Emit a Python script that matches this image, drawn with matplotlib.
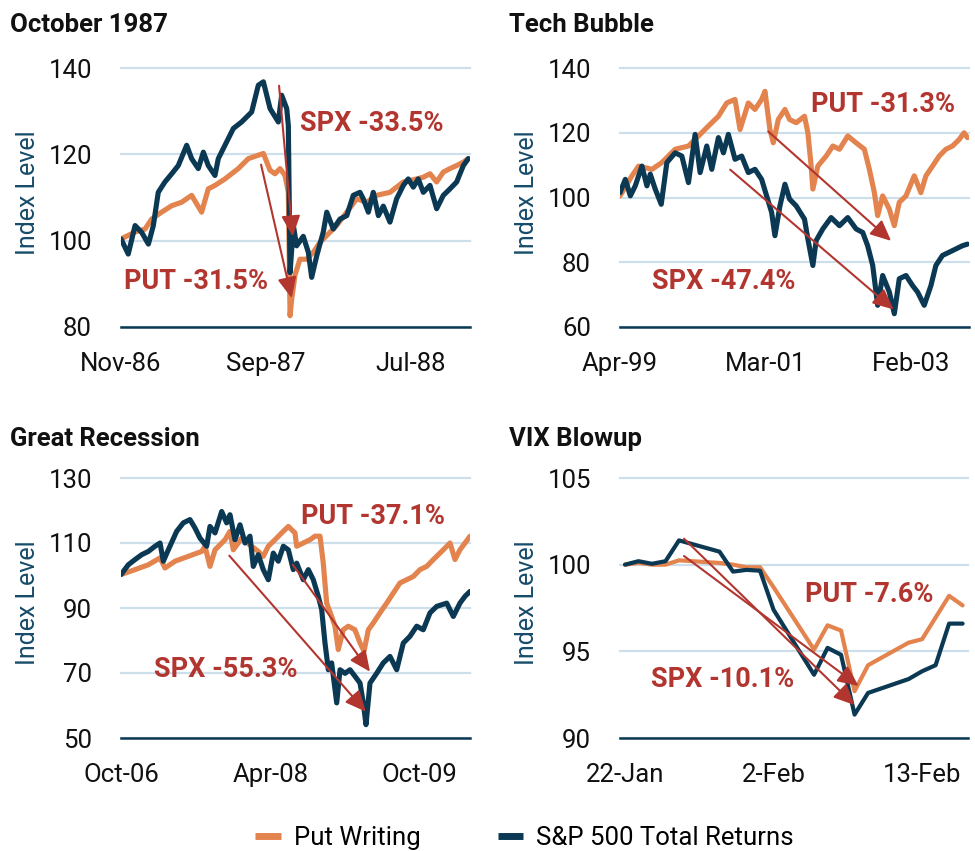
import matplotlib
matplotlib.use("Agg")
import matplotlib.pyplot as plt
from matplotlib.lines import Line2D

ORANGE = "#E3834E"
NAVY = "#0B3954"
RED = "#B2362F"
GRID = "#CCDFEA"
YLAB = "#164B6A"

plt.rcParams["font.family"] = ["Roboto", "DejaVu Sans"]

# ---- October 1987 (x = months since Nov-86)
oct87_spx_m = [0.0, 0.5, 0.97, 1.43, 1.89, 2.23, 2.57, 3.03, 3.5, 3.95, 4.53, 4.87, 5.33, 5.68, 6.02,
               6.48, 6.71, 7.17, 7.75, 8.32, 9.01, 9.47, 9.82, 10.28, 10.85, 11.08, 11.43, 11.54, 11.66,
               11.89, 12.11, 12.57, 12.92, 13.15, 13.5, 13.95, 14.19, 14.64, 15.1, 15.57, 16.02, 16.48,
               16.71, 17.06, 17.4, 17.75, 18.09, 18.55, 19.01, 19.47, 19.81, 20.16, 20.5, 20.85, 21.31,
               21.77, 22.23, 22.69, 23.15, 23.61, 23.95]
oct87_spx = [100.4, 96.9, 103.5, 101.9, 99.2, 103.5, 111.2, 113.6, 115.5, 117.4, 122.1, 119.0, 116.7,
             120.5, 117.4, 115.1, 119.0, 122.1, 126.0, 127.5, 129.8, 136.0, 136.8, 130.6, 127.5, 133.7,
             130.6, 126.7, 92.6, 103.5, 98.8, 101.0, 97.3, 91.5, 96.5, 102.0, 106.6, 102.7, 105.0, 105.8,
             110.5, 111.2, 109.7, 106.6, 111.2, 105.8, 108.0, 104.3, 109.7, 112.8, 114.3, 112.4, 114.3,
             111.2, 112.8, 107.4, 110.5, 112.0, 113.6, 117.4, 119.0]
oct87_put_m = [0.0, 0.97, 1.66, 2.11, 2.8, 3.5, 4.18, 4.87, 5.56, 6.02, 6.48, 7.17, 8.09, 8.78, 9.47,
               9.82, 10.28, 10.62, 10.97, 11.31, 11.54, 11.66, 11.77, 12.0, 12.34, 12.8, 13.26, 13.72,
               14.19, 14.87, 15.57, 16.26, 16.94, 17.63, 18.55, 19.47, 20.39, 20.85, 21.31, 21.77, 22.23,
               22.69, 23.15, 23.61, 23.95]
oct87_put = [100.4, 102.0, 102.7, 105.0, 106.6, 108.1, 108.9, 110.5, 106.6, 112.0, 112.8, 114.3, 116.7,
             119.0, 119.8, 120.2, 116.3, 115.5, 116.7, 115.1, 111.2, 82.6, 86.4, 92.0, 95.7, 95.7, 97.3,
             99.6, 101.2, 103.5, 106.6, 109.7, 108.9, 110.5, 111.2, 113.6, 114.3, 114.7, 115.5, 113.6,
             115.9, 116.7, 117.4, 118.2, 119.0]

# ---- Tech Bubble (x = months since Apr-99)
tech_spx_m = [0.0, 0.84, 1.63, 2.41, 3.46, 4.25, 4.78, 5.56, 6.51, 7.4, 8.71, 9.76, 10.81, 11.86, 12.65,
              13.7, 14.49, 15.54, 16.33, 17.11, 18.16, 19.21, 20.26, 21.31, 22.36, 23.15, 23.94, 24.46,
              25.25, 26.04, 26.77, 27.82, 29.13, 29.66, 30.45, 30.97, 32.02, 33.33, 34.65, 35.96, 37.27,
              38.32, 39.1, 39.9, 40.68, 41.47, 42.52, 43.31, 44.09, 45.15, 46.19, 46.98, 48.03, 49.09,
              49.87, 50.91, 51.97, 53.02, 54.06, 54.85]
tech_spx = [101.5, 105.6, 100.5, 103.6, 109.7, 103.6, 107.2, 102.6, 97.9, 110.8, 113.8, 112.8, 104.6,
            119.5, 107.7, 115.9, 108.7, 118.5, 113.8, 119.5, 111.8, 112.8, 107.7, 108.7, 105.6, 100.5,
            95.4, 88.2, 97.4, 104.1, 99.5, 97.4, 93.3, 87.2, 79.0, 86.7, 90.3, 93.8, 91.3, 93.8, 90.3,
            89.2, 85.1, 79.0, 66.7, 75.9, 70.8, 64.1, 74.9, 75.9, 72.8, 70.8, 66.7, 72.8, 79.0, 82.1,
            83.1, 84.1, 85.1, 85.6]
tech_put_m = [0.0, 1.89, 2.94, 5.04, 6.61, 8.71, 10.81, 12.39, 13.97, 15.54, 16.85, 18.16, 18.95, 20.26,
              21.31, 22.36, 22.89, 23.67, 24.2, 24.99, 26.04, 26.77, 27.82, 29.13, 29.66, 30.18, 30.45,
              31.23, 32.55, 33.6, 34.65, 35.96, 37.27, 38.58, 39.37, 40.16, 40.68, 41.47, 42.52, 43.31,
              44.09, 45.15, 46.46, 47.5, 48.3, 49.34, 50.39, 51.45, 52.49, 53.54, 54.33, 54.85]
tech_put = [100.5, 106.7, 109.7, 108.7, 110.8, 114.9, 115.9, 119.0, 122.1, 125.1, 129.2, 130.3, 121.0,
            129.2, 127.2, 130.3, 132.8, 121.0, 116.9, 124.1, 127.2, 124.1, 123.1, 125.1, 120.0, 109.7,
            102.6, 109.7, 112.8, 115.9, 114.9, 119.0, 116.9, 114.9, 108.7, 101.5, 94.4, 100.5, 96.4,
            91.3, 98.5, 100.5, 106.7, 101.5, 106.7, 109.7, 112.8, 114.9, 115.9, 117.9, 120.0, 118.5]

# ---- Great Recession (x = months since Oct-06)
gr_spx_m = [0.0, 0.88, 1.69, 2.49, 3.29, 4.1, 4.7, 5.1, 5.7, 6.71, 7.51, 8.31, 8.92, 9.52, 10.32, 10.72,
            11.33, 12.13, 12.73, 13.13, 13.73, 14.34, 14.94, 15.54, 15.94, 16.54, 17.14, 17.75, 18.35,
            18.95, 19.56, 20.16, 20.76, 21.17, 21.96, 22.57, 23.17, 23.77, 24.18, 24.58, 24.98, 25.38,
            25.99, 26.39, 26.99, 27.59, 28.19, 28.8, 29.19, 29.52, 30.0, 30.8, 31.6, 32.41, 33.22,
            34.01, 34.82, 35.63, 36.42, 37.23, 38.04, 39.24, 40.04, 40.84, 41.45, 42.05]
gr_spx = [100.3, 103.3, 104.9, 106.4, 107.4, 109.0, 110.0, 104.4, 107.9, 113.6, 116.2, 117.2, 114.6,
          111.5, 109.0, 115.1, 113.1, 119.7, 116.2, 118.7, 111.0, 115.6, 110.0, 112.1, 102.8, 106.4,
          101.8, 98.7, 106.9, 104.4, 109.0, 107.9, 101.8, 103.8, 98.7, 101.8, 98.7, 93.6, 89.5, 79.2,
          71.0, 73.1, 60.8, 71.0, 69.9, 71.0, 69.0, 66.9, 60.8, 54.1, 66.9, 69.9, 73.1, 75.1, 71.0,
          79.2, 81.3, 84.4, 83.3, 88.5, 90.5, 91.5, 87.4, 91.5, 93.6, 95.1]
gr_put_m = [0.0, 1.69, 3.29, 4.7, 5.3, 6.51, 8.11, 9.72, 10.12, 10.72, 11.33, 12.53, 13.13, 13.53, 14.54,
            15.74, 16.54, 17.14, 17.75, 18.55, 19.36, 20.16, 20.96, 21.17, 21.96, 22.77, 23.37, 23.98,
            24.37, 24.78, 25.38, 25.78, 26.18, 26.78, 27.39, 28.19, 28.8, 29.28, 29.8, 30.4, 31.2,
            32.01, 32.81, 33.61, 34.42, 35.22, 36.02, 36.83, 37.63, 38.83, 39.64, 40.24, 40.84, 41.45,
            42.05]
gr_put = [100.3, 101.8, 103.3, 105.4, 102.3, 104.4, 105.9, 107.4, 109.0, 102.8, 107.9, 111.0, 113.6,
          107.9, 111.5, 109.0, 107.4, 105.9, 109.0, 111.0, 113.1, 115.1, 113.1, 109.0, 110.0, 111.0,
          112.1, 112.1, 103.8, 91.5, 87.4, 84.4, 77.2, 83.3, 84.4, 83.3, 79.2, 76.7, 83.3, 85.4, 88.5,
          91.5, 94.6, 97.7, 98.7, 99.7, 101.8, 102.8, 104.9, 107.9, 110.0, 104.9, 107.9, 110.0, 112.1]

# ---- VIX Blowup 2018 (x = calendar days since 22-Jan)
vix_days = [0, 1, 2, 3, 4, 7, 8, 9, 10, 11, 14, 15, 16, 17, 18, 21, 22, 23, 24, 25]
vix_spx = [100.0, 100.2, 100.05, 100.2, 101.4, 100.75, 99.6, 99.7, 99.65, 97.4, 93.65, 95.2, 94.8,
           91.35, 92.6, 93.4, 93.85, 94.2, 96.6, 96.6]
vix_put = [100.0, 100.1, 100.0, 100.0, 100.25, 100.1, 100.0, 99.85, 99.85, 98.7, 95.1, 96.5, 96.2,
           92.7, 94.2, 95.5, 95.7, 96.95, 98.2, 97.65]

panels = [
    dict(title="October 1987", x_spx=oct87_spx_m, spx=oct87_spx, x_put=oct87_put_m, put=oct87_put,
         ylim=(80, 140), yticks=[80, 100, 120, 140], xlim=(0, 24.07), xticks=[0, 10, 20],
         xlabels=["Nov-86", "Sep-87", "Jul-88"], lw=3.7,
         spx_arrow=((10.9, 135.9), (11.84, 101.0)), put_arrow=((9.66, 117.6), (11.77, 86.7)),
         spx_text=(17.3, 127.1, "SPX -33.5%"), put_text=(5.2, 90.6, "PUT -31.5%")),
    dict(title="Tech Bubble", x_spx=tech_spx_m, spx=tech_spx, x_put=tech_put_m, put=tech_put,
         ylim=(60, 140), yticks=[60, 80, 100, 120, 140], xlim=(0, 55.1), xticks=[0, 23, 46],
         xlabels=["Apr-99", "Mar-01", "Feb-03"], lw=3.7,
         spx_arrow=((17.4, 108.6), (43.2, 65.4)), put_arrow=((23.4, 120.4), (42.8, 86.6)),
         spx_text=(16.4, 73.9, "SPX -47.4%"), put_text=(41.5, 128.7, "PUT -31.3%")),
    dict(title="Great Recession", x_spx=gr_spx_m, spx=gr_spx, x_put=gr_put_m, put=gr_put,
         ylim=(50, 130), yticks=[50, 70, 90, 110, 130], xlim=(0, 42.05), xticks=[0, 18, 36],
         xlabels=["Oct-06", "Apr-08", "Oct-09"], lw=3.7,
         spx_arrow=((13.05, 106.1), (29.5, 58.1)), put_arrow=((20.7, 103.3), (30.0, 70.4)),
         spx_text=(12.65, 71.0, "SPX -55.3%"), put_text=(30.4, 118.2, "PUT -37.1%")),
    dict(title="VIX Blowup", x_spx=vix_days, spx=vix_spx, x_put=vix_days, put=vix_put,
         ylim=(90, 105), yticks=[90, 95, 100, 105], xlim=(-0.37, 25.4), xticks=[0, 11, 22],
         xlabels=["22-Jan", "2-Feb", "13-Feb"], lw=3.0,
         spx_arrow=((4.37, 101.5), (17.0, 91.9)), put_arrow=((4.37, 100.5), (17.3, 93.0)),
         spx_text=(7.2, 93.4, "SPX -10.1%"), put_text=(18.1, 98.3, "PUT -7.6%")),
]

W, H = 975, 851
fig = plt.figure(figsize=(W / 100, H / 100), dpi=100)

# axes boxes in pixels: left, top, right, bottom
boxes = [(121, 68, 470, 327), (620, 68, 969, 327), (121, 478, 470, 738), (620, 478, 968, 738)]
title_pos = [(10, 32), (509, 32), (10, 446), (509, 446)]

for p, (l, t, r, b), (tx, ty) in zip(panels, boxes, title_pos):
    ax = fig.add_axes([l / W, 1 - b / H, (r - l) / W, (b - t) / H])
    ax.plot(p["x_put"], p["put"], color=ORANGE, lw=p["lw"], solid_joinstyle="round",
            solid_capstyle="round")
    ax.plot(p["x_spx"], p["spx"], color=NAVY, lw=p["lw"], solid_joinstyle="round",
            solid_capstyle="round")
    ax.set_xlim(p["xlim"])
    ax.set_ylim(p["ylim"])
    ax.set_yticks(p["yticks"])
    ax.set_xticks(p["xticks"])
    ax.set_xticklabels(p["xlabels"])
    for s in ["top", "right", "left"]:
        ax.spines[s].set_visible(False)
    ax.spines["bottom"].set_color(NAVY)
    ax.spines["bottom"].set_linewidth(1.8)
    ax.grid(axis="y", color=GRID, lw=1.6)
    ax.set_axisbelow(True)
    for gl in ax.get_ygridlines():
        gl.set_clip_on(False)
    ax.tick_params(length=0, labelsize=18.5, colors="#111111")
    ax.tick_params(axis="y", pad=21)
    ax.tick_params(axis="x", pad=18)
    ax.set_ylabel("Index Level", color=YLAB, fontsize=18)
    ax.yaxis.set_label_coords(-0.232, 0.52)

    arrow = dict(arrowstyle="-|>,head_length=1.05,head_width=0.48", color=RED, lw=1.5,
                 mutation_scale=12, shrinkA=0, shrinkB=0)
    for key in ["spx_arrow", "put_arrow"]:
        start, tip = p[key]
        ax.annotate("", xy=tip, xytext=start, arrowprops=arrow)
    for key in ["spx_text", "put_text"]:
        x, y, s = p[key]
        ax.text(x, y, s, color=RED, fontsize=19.5, fontweight="bold", ha="center", va="center")

    fig.text(tx / W, 1 - ty / H, p["title"], fontsize=18.5, fontweight="bold", ha="left",
             va="baseline", color="#111111")

handles = [Line2D([], [], color=ORANGE, lw=5, solid_capstyle="butt"),
           Line2D([], [], color=NAVY, lw=5, solid_capstyle="butt")]
fig.legend(handles, ["Put Writing", "S&P 500 Total Returns"], loc="center",
           bbox_to_anchor=(0.538, 1 - 838 / H), ncol=2, frameon=False, fontsize=18.5,
           handlelength=1.0, handletextpad=0.5, columnspacing=3.0)

fig.savefig("out.png", dpi=100)
